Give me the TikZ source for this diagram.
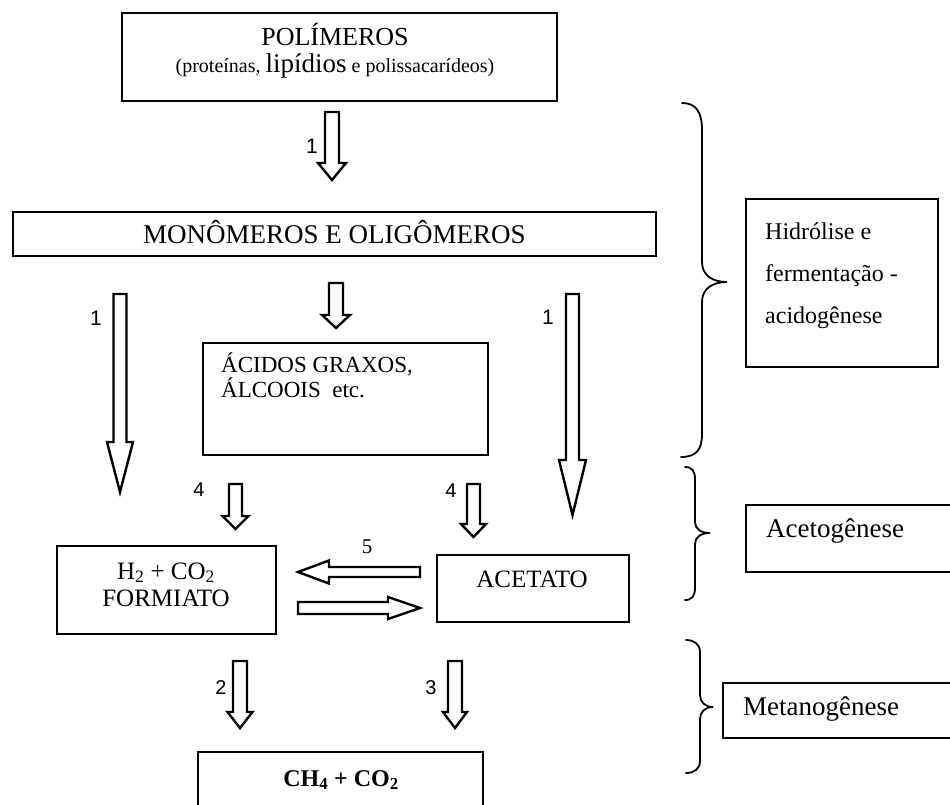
\documentclass[tikz,border=0pt]{standalone}
\usepackage{fontspec}
\setmainfont{Liberation Serif}
\newfontfamily\lsans{Liberation Sans}
\usetikzlibrary{calc}
\tikzset{
  box/.style={draw, line width=2.2pt, inner sep=0pt, rectangle},
  blk/.style={draw, line width=2.4pt, fill=white, line join=miter},
  num/.style={font=\fontsize{21}{21}\selectfont\lsans, inner sep=0pt},
  txt/.style={inner sep=0pt, anchor=base},
  ltxt/.style={inner sep=0pt, anchor=base west},
  bracestyle/.style={draw, line width=1.8pt, line cap=round},
}
\newcommand\fs[1]{\fontsize{#1}{#1}\selectfont}
% vertical block arrow: from (#1) to tip (#2), shaft half width #3, head half width #4, head length #5
\newcommand\vblk[5]{%
  \draw[blk] let \p1=(#1), \p2=(#2) in
    (\x1-#3pt,\y1) -- (\x1-#3pt,\y2+#5pt) -- (\x1-#4pt,\y2+#5pt) -- (\x1,\y2) --
    (\x1+#4pt,\y2+#5pt) -- (\x1+#3pt,\y2+#5pt) -- (\x1+#3pt,\y1) -- cycle;}
% rightwards block arrow
\newcommand\hblkR[5]{%
  \draw[blk] let \p1=(#1), \p2=(#2) in
    (\x1,\y1+#3pt) -- (\x2-#5pt,\y1+#3pt) -- (\x2-#5pt,\y1+#4pt) -- (\x2,\y1) --
    (\x2-#5pt,\y1-#4pt) -- (\x2-#5pt,\y1-#3pt) -- (\x1,\y1-#3pt) -- cycle;}
% leftwards block arrow
\newcommand\hblkL[5]{%
  \draw[blk] let \p1=(#1), \p2=(#2) in
    (\x1,\y1+#3pt) -- (\x2+#5pt,\y1+#3pt) -- (\x2+#5pt,\y1+#4pt) -- (\x2,\y1) --
    (\x2+#5pt,\y1-#4pt) -- (\x2+#5pt,\y1-#3pt) -- (\x1,\y1-#3pt) -- cycle;}
\begin{document}
\begin{tikzpicture}[x=1pt,y=-1pt]
\useasboundingbox (0,0) rectangle (950,804);
\clip (0,0) rectangle (950,804);
\fill[white] (0,0) rectangle (950,804);

% ---------- boxes ----------
\node[box, minimum width=435pt, minimum height=88pt] (pol) at (339.5,57) {};
\node[txt, font=\fs{26}] (poltxt) at (335,45) {POLÍMEROS};
\node[txt, font=\fs{20}] (polsub) at (335,72) {(proteínas, {\fs{27}lipídios} e polissacarídeos)};

\node[box, minimum width=643pt, minimum height=44pt] (mono) at (334.5,234) {};
\node[txt, font=\fs{27}] (monotxt) at (334.5,243) {MONÔMEROS E OLIGÔMEROS};

\node[box, line width=2pt, minimum width=285pt, minimum height=112pt] (acid) at (345.5,399) {};
\node[ltxt, align=left, font=\fontsize{23}{19}\selectfont] (acidtxt) at (221,397)
  {ÁCIDOS GRAXOS,\\ÁLCOOIS\ \ etc.};

\node[box, line width=2pt, minimum width=219pt, minimum height=88pt] (h2) at (166.5,590) {};
\node[txt, font=\fs{25}] (h2a) at (166,579) {H\textsubscript{2} + CO\textsubscript{2}};
\node[txt, font=\fs{25}] (h2b) at (166,606) {FORMIATO};

\node[box, line width=2.4pt, minimum width=192pt, minimum height=67pt] (acet) at (533,588.5) {};
\node[txt, font=\fs{25}] (acettxt) at (532,587) {ACETATO};

\node[box, line width=2.8pt, minimum width=285pt, minimum height=80pt] (ch4) at (340.5,792) {};
\node[txt, font=\fs{24}] (ch4txt) at (341,786) {\textbf{CH\textsubscript{4} + CO\textsubscript{2}}};

% right column
\node[box, line width=2pt, minimum width=192pt, minimum height=168pt] (hid) at (842,283) {};
\node[ltxt, font=\fs{24}] (hid1) at (765,239) {Hidrólise e};
\node[ltxt, font=\fs{24}] (hid2) at (765,281) {fermentação -};
\node[ltxt, font=\fs{24}] (hid3) at (765,323) {acidogênese};

\node[box, line width=2pt, minimum width=229pt, minimum height=67pt] (aceto) at (860.5,538.5) {};
\node[ltxt, font=\fs{27}] (acetotxt) at (766,537) {Acetogênese};

\node[box, line width=2pt, minimum width=252pt, minimum height=55pt] (meta) at (849,710.5) {};
\node[ltxt, font=\fs{27}] (metatxt) at (743,715) {Metanogênese};

% ---------- arrow end points ----------
\coordinate (a1s) at (332,112);   \coordinate (a1e) at (332,180);
\coordinate (ams) at (336,283);   \coordinate (ame) at (336,328);
\coordinate (als) at (120,294);   \coordinate (ale) at (120,492);
\coordinate (ars) at (572.5,294); \coordinate (are) at (572.5,515);
\coordinate (a4ls) at (235.5,484); \coordinate (a4le) at (235.5,529);
\coordinate (a4rs) at (473.5,484); \coordinate (a4re) at (473.5,537);
\coordinate (a2s) at (240,661);   \coordinate (a2e) at (240,728);
\coordinate (a3s) at (455,661);   \coordinate (a3e) at (455,728);
\coordinate (a5s) at (420,572);   \coordinate (a5e) at (298,572);
\coordinate (a6s) at (298,608);   \coordinate (a6e) at (420,608);

\vblk{a1s}{a1e}{7}{14}{17}
\vblk{ams}{ame}{7}{14}{13}
\vblk{als}{ale}{6.5}{13}{50}
\vblk{ars}{are}{6.5}{13.5}{55}
\vblk{a4ls}{a4le}{6.5}{13}{13}
\vblk{a4rs}{a4re}{6.5}{12.5}{13}
\vblk{a2s}{a2e}{7}{12.5}{16}
\vblk{a3s}{a3e}{7}{12}{16}
\hblkL{a5s}{a5e}{5}{11.5}{31}
\hblkR{a6s}{a6e}{6}{11}{32}

% ---------- labels ----------
\node[num] (n1t) at (312,146) {1};
\node[num] (n1l) at (96,318) {1};
\node[num] (n1r) at (548,317) {1};
\node[num, font=\fs{20}\lsans] (n4l) at (199,490) {4};
\node[num, font=\fs{20}\lsans] (n4r) at (451,491) {4};
\node[inner sep=0pt, font=\fs{21}] (n5) at (367,547) {5};
\node[num, font=\fs{20}\lsans] (n2) at (221,688) {2};
\node[num, font=\fs{20}\lsans] (n3) at (431,688) {3};

% ---------- braces ----------
\draw[bracestyle] (682,103) .. controls (696,103) and (702,112) .. (702,130) -- (702,262)
  .. controls (702,275) and (712,282) .. (727,282)
  .. controls (712,282) and (702,289) .. (702,302) -- (702,434)
  .. controls (702,450) and (696,457) .. (681,457);
\draw[bracestyle] (685,467) .. controls (692,467) and (695,471) .. (695,479) -- (695,522)
  .. controls (695,529) and (701,533) .. (710,533)
  .. controls (701,533) and (695,537) .. (695,544) -- (695,588)
  .. controls (695,596) and (692,600) .. (685,600);
\draw[bracestyle] (686,640) .. controls (694,640) and (700,644) .. (700,652) -- (700,695)
  .. controls (700,702) and (705,707) .. (713,707)
  .. controls (705,707) and (700,712) .. (700,719) -- (700,761)
  .. controls (700,769) and (694,773) .. (686,773);
\end{tikzpicture}
\end{document}
